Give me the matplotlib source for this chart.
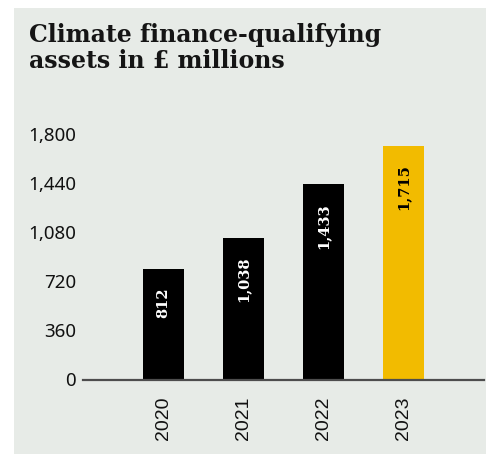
import matplotlib.pyplot as plt
from matplotlib.patches import Rectangle

years = ['2020', '2021', '2022', '2023']
assets = [812, 1038, 1433, 1715]
bar_colors = ['#000000', '#000000', '#000000', '#f2bb00']
label_colors = ['white', 'white', 'white', 'black']
yticks = [0, 360, 720, 1080, 1440, 1800]
title_lines = ['Climate finance-qualifying', 'assets in £ millions']

BG = '#e7ebe7'
W, H = 486, 454

fig = plt.figure(figsize=(W / 100, H / 100), dpi=100)
fig.patch.set_facecolor('white')

# grey panel behind everything
fig.add_artist(Rectangle((14 / W, 0), 1 - 14 / W, (H - 8) / H,
                         transform=fig.transFigure, facecolor=BG,
                         edgecolor='none', zorder=0))

# two-line title, baselines placed by pixel
for line, base in zip(title_lines, [42, 68]):
    fig.text(29 / W, 1 - base / H, line, fontsize=17, fontweight='bold',
             family='DejaVu Serif', color='#151515', ha='left', va='baseline')

ax_l, ax_r = 83, 484
ax_b, ax_t = 379.5, 134
ax = fig.add_axes([ax_l / W, 1 - ax_b / H, (ax_r - ax_l) / W, (ax_b - ax_t) / H])
ax.set_facecolor('none')

x = range(len(years))
ax.bar(x, assets, width=0.51, color=bar_colors, zorder=2)

# value labels, rotated, hanging just below each bar top
for i, v in enumerate(assets):
    ax.annotate(f'{v:,}', (i, v), xytext=(0, -19), textcoords='offset pixels',
                rotation=90, ha='center', va='top', fontsize=10.5,
                fontweight='bold', family='DejaVu Serif',
                color=label_colors[i], zorder=3)

ax.set_xlim(-1.005, 4.005)
ax.set_ylim(0, 1800)
ax.set_yticks(yticks)
ax.set_yticklabels([f'{t:,}' for t in yticks], family='Noto Sans',
                   fontsize=13.5, color='#111111')
ax.set_xticks(list(x))
ax.set_xticklabels(years, rotation=90, family='Liberation Sans',
                   fontsize=14, color='#111111')
ax.tick_params(axis='y', length=0, pad=5)
ax.tick_params(axis='x', length=0, pad=12.5)

for s in ['top', 'right', 'left']:
    ax.spines[s].set_visible(False)
ax.spines['bottom'].set_color('#4d4d4d')
ax.spines['bottom'].set_linewidth(1.6)
ax.spines['bottom'].set_zorder(4)

fig.savefig('out.png', dpi=100, facecolor='white')
